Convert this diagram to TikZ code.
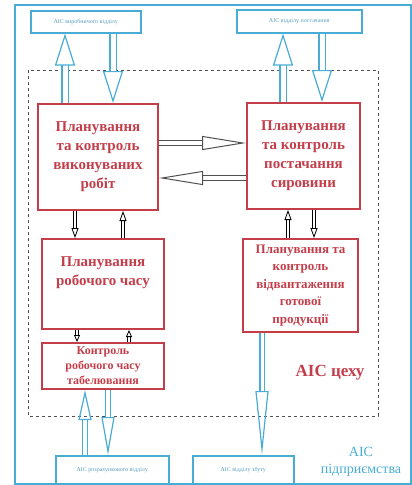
\documentclass[tikz,border=0pt]{standalone}
\usepackage{fontspec}
\setmainfont{Liberation Serif}
\usepackage{xcolor}
\usetikzlibrary{arrows.meta}

\definecolor{aisred}{RGB}{196,62,74}
\definecolor{aisblue}{RGB}{72,172,212}
\definecolor{aisgray}{RGB}{80,80,80}

\begin{document}
\begin{tikzpicture}[x=1pt,y=-1pt,
	unit/.style={draw=aisred, line width=2pt, text=aisred, align=center, anchor=north west, inner sep=0pt, font=\bfseries\fontsize{15}{19}\selectfont},
	extunit/.style={draw=aisblue, line width=1.5pt, text=aisblue!70!gray, anchor=north west, inner sep=0pt, font=\fontsize{6}{7}\selectfont},
	bluearrow/.style={draw=aisblue, line width=1.2pt, double=white, double distance=5pt, -{Triangle[open, length=32pt, width=20pt]}},
	blackarrow/.style={draw=aisgray, line width=1pt, double=white, double distance=4pt, -{Triangle[open, length=44pt, width=14pt]}},
	smallarrow/.style={draw=black, line width=0.8pt, double=white, double distance=2pt, -{Triangle[open, length=10pt, width=7pt]}}]
	\useasboundingbox (0,0) rectangle (412,485);
	\draw[aisblue, line width=1.5pt] (15,5) rectangle (411,484);
	\draw[aisgray, dashed] (28,70) rectangle (378,416);

	\node[extunit, minimum width=110, minimum height=22] (virob) at (30,10) {АІС виробничого відділу};
	\node[extunit, minimum width=125, minimum height=23] (postach) at (236,9) {АІС відділу постачання};
	\node[extunit, minimum width=113, minimum height=28] (rozrah) at (55,455) {АІС розрахункового відділу};
	\node[extunit, minimum width=101, minimum height=28] (zbut) at (192,455) {АІС відділу збуту};

	\node[unit, minimum width=120, minimum height=106] (robit) at (37,103) {Планування\\та контроль\\виконуваних\\робіт};
	\node[unit, minimum width=113, minimum height=106] (sirov) at (246,102) {Планування\\та контроль\\постачання\\сировини};
	\node[unit, minimum width=122, minimum height=90, label={[text=aisred, align=center, font=\bfseries\fontsize{15}{19}\selectfont, yshift=11pt]center:Планування\\робочого часу}] (chas) at (41,238) {};
	\node[unit, minimum width=115, minimum height=93, font=\bfseries\fontsize{13}{17.5}\selectfont] (vidv) at (242,238) {Планування та\\контроль\\відвантаження\\готової\\продукції};
	\node[unit, minimum width=122, minimum height=46, font=\bfseries\fontsize{12}{15}\selectfont] (tabel) at (41,342) {Контроль\\робочого часу\\табелювання};

	\node[text=aisred, font=\bfseries\fontsize{17}{20}\selectfont] (cekh) at (330,373) {АІС цеху};
	\node[text=aisblue, align=center, font=\fontsize{14}{17}\selectfont] (pidpr) at (361,462) {АІС\\підприємства};

	% top links
	\draw[bluearrow] ([xshift=28pt]robit.north west) -- ([xshift=28pt]robit.north west |- virob.south);
	\draw[bluearrow] ([xshift=83pt]virob.south west) -- ([xshift=83pt]virob.south west |- robit.north);
	\draw[bluearrow] ([xshift=37pt]sirov.north west) -- ([xshift=37pt]sirov.north west |- postach.south);
	\draw[bluearrow] ([xshift=86pt]postach.south west) -- ([xshift=86pt]postach.south west |- sirov.north);

	% bottom links
	\draw[bluearrow, double distance=3.5pt, -{Triangle[open, length=30pt, width=13pt]}] ([xshift=30pt]rozrah.north west) -- ([xshift=30pt]rozrah.north west |- tabel.south);
	\draw[bluearrow, double distance=3.5pt, -{Triangle[open, length=38pt, width=13pt]}] ([xshift=67pt]tabel.south west) -- ([xshift=67pt]tabel.south west |- rozrah.north);
	\draw[bluearrow, double distance=3pt, -{Triangle[open, length=64pt, width=13pt]}] ([xshift=20pt]vidv.south west) -- ([xshift=20pt]vidv.south west |- zbut.north);

	% between units
	\draw[blackarrow] ([yshift=14pt]robit.east) -- ([yshift=14pt]robit.east -| sirov.west);
	\draw[blackarrow] ([yshift=-21pt]robit.east -| sirov.west) -- ([yshift=-21pt]robit.east);
	\draw[smallarrow] ([xshift=38pt]robit.south west) -- ([xshift=38pt]robit.south west |- chas.north);
	\draw[smallarrow] ([xshift=86pt]robit.south west |- chas.north) -- ([xshift=86pt]robit.south west);
	\draw[smallarrow] ([xshift=46pt]vidv.north west) -- ([xshift=46pt]vidv.north west |- sirov.south);
	\draw[smallarrow] ([xshift=68pt]sirov.south west) -- ([xshift=68pt]sirov.south west |- vidv.north);
	\draw[smallarrow, -{Triangle[open, length=7pt, width=6pt]}] ([xshift=36pt]chas.south west) -- ([xshift=36pt]chas.south west |- tabel.north);
	\draw[smallarrow, -{Triangle[open, length=7pt, width=6pt]}] ([xshift=88pt]chas.south west |- tabel.north) -- ([xshift=88pt]chas.south west);
\end{tikzpicture}
\end{document}
